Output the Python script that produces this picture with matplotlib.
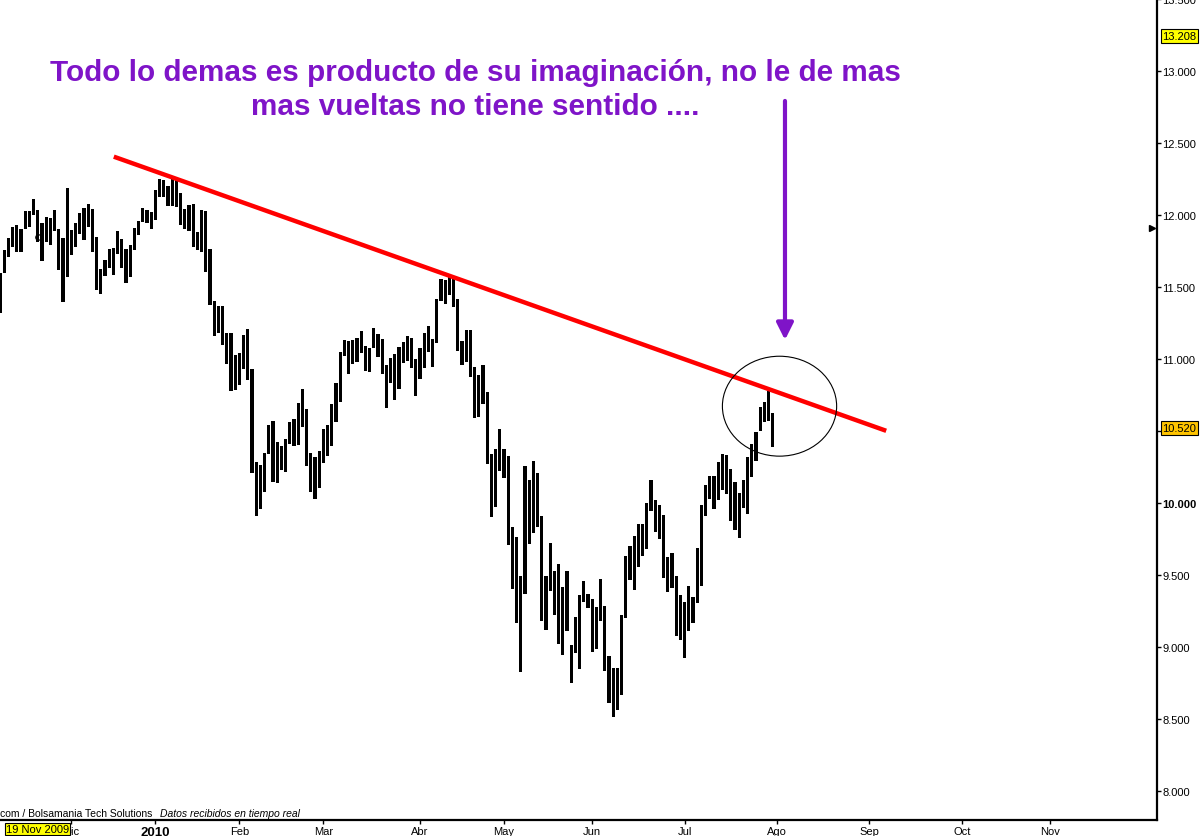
import numpy as np
import matplotlib
matplotlib.use('Agg')
import matplotlib.pyplot as plt
from matplotlib.patches import Ellipse

plt.rcParams['font.family'] = ['Liberation Sans', 'DejaVu Sans']

# daily high / low (one bar per trading day, from 19 Nov 2009)
highs = [11597, 11757, 11840, 11914, 11931, 11903, 12028, 12028, 12111, 12035,
         11944, 11986, 11977, 12032, 11903, 11840, 12187, 11896, 11944, 12014,
         12046, 12076, 12042, 11847, 11625, 11690, 11764, 11771, 11889, 11833,
         11764, 11792, 11910, 11958, 12049, 12035, 12021, 12174, 12250, 12243,
         12201, 12264, 12250, 12153, 12042, 12069, 12076, 11882, 12035, 12028,
         11764, 11403, 11368, 11368, 11181, 11181, 11028, 11042, 11167, 11208,
         10931, 10285, 10266, 10347, 10542, 10569, 10424, 10396, 10444, 10563,
         10583, 10694, 10792, 10653, 10347, 10319, 10361, 10514, 10542, 10687,
         10833, 11049, 11132, 11125, 11132, 11146, 11194, 11090, 11076, 11215,
         11174, 11139, 10958, 11007, 11035, 11083, 11118, 11160, 11146, 11000,
         11076, 11181, 11229, 11139, 11417, 11556, 11549, 11569, 11556, 11417,
         11125, 11201, 11201, 10944, 10889, 10958, 10771, 10340, 10375, 10514,
         10375, 10326, 9836, 9766, 9495, 10257, 10160, 10292, 10208, 9910,
         9495, 9722, 9528, 9576, 9419, 9528, 9016, 9211, 9363, 9458,
         9370, 9333, 9280, 9472, 9287, 8940, 8856, 8856, 9225, 9634,
         9704, 9773, 9854, 9854, 10000, 10160, 10023, 9986, 9917, 9627,
         9655, 9495, 9363, 9315, 9426, 9350, 9688, 9986, 10125, 10188,
         10188, 10285, 10340, 10333, 10236, 10146, 10070, 10160, 10320, 10410,
         10493, 10667, 10701, 10778, 10625]
lows = [11317, 11597, 11711, 11780, 11745, 11745, 11903, 11919, 12002, 11810,
        11683, 11815, 11794, 11891, 11620, 11398, 11572, 11724, 11780, 11868,
        11829, 11919, 11745, 11481, 11454, 11579, 11632, 11586, 11729, 11632,
        11530, 11572, 11759, 11863, 11954, 11947, 11903, 11968, 12127, 12127,
        12065, 12065, 12053, 11933, 11903, 11891, 11780, 11759, 11741, 11606,
        11377, 11162, 11183, 11100, 10968, 10780, 10787, 10822, 10933, 10856,
        10211, 9910, 9958, 10074, 10340, 10148, 10141, 10231, 10218, 10410,
        10398, 10405, 10530, 10259, 10079, 10030, 10106, 10280, 10329, 10398,
        10565, 10704, 11023, 10898, 10968, 10981, 11044, 10919, 10912, 11079,
        11016, 10898, 10662, 10836, 10718, 10794, 10975, 10988, 10940, 10745,
        10863, 10940, 11051, 10947, 11113, 11405, 11384, 11447, 11363, 11058,
        10961, 10981, 10877, 10593, 10600, 10690, 10273, 9905, 9975, 10225,
        10176, 9711, 9405, 9169, 8829, 9370, 9718, 9794, 9836, 9183,
        9120, 9391, 9225, 9023, 8947, 9113, 8752, 8961, 8850, 9315,
        9273, 8968, 8988, 9183, 8836, 8613, 8516, 8565, 8669, 9204,
        9468, 9398, 9558, 9634, 9683, 9947, 9801, 9752, 9482, 9384,
        9412, 9079, 9051, 8926, 9113, 9169, 9308, 9426, 9912, 10030,
        9961, 10023, 10093, 10065, 9877, 9815, 9759, 9968, 9926, 10183,
        10292, 10502, 10560, 10567, 10391]

month_pos = [17, 37, 57, 77, 100, 120, 141, 163, 185, 207, 229, 250]
month_lbl = ['Dic', '2010', 'Feb', 'Mar', 'Abr', 'May', 'Jun', 'Jul', 'Ago', 'Sep', 'Oct', 'Nov']

price_ticks = list(range(8000, 14000, 500))

# resistance line drawn by hand (bar index, price)
trend_x = [27.1, 211.0]
trend_y = [12405, 10501]

last_price = 10520
max_price = 13208
purple = '#7F14C8'

W, H = 1201, 837
fig = plt.figure(figsize=(W / 100, H / 100), dpi=100)
ax = fig.add_axes([0, 16 / H, 1156.5 / W, 821 / H])

x = np.arange(len(highs))
hi = np.array(highs)
lo = np.array(lows)
ax.bar(x, hi - lo, bottom=lo, width=0.72, color='black', linewidth=0, antialiased=False)
ax.plot([9], [11850], 'o', ms=4, mfc='none', mec='black', mew=0.8)

ax.plot(trend_x, trend_y, color='#FF0000', lw=3.2, solid_capstyle='butt', zorder=4)
ax.add_patch(Ellipse((185.6, 10672), 27.2, 694, fill=False, ec='black', lw=0.8, zorder=5))
ax.annotate('', xy=(186.9, 11132), xytext=(186.9, 12792),
            arrowprops=dict(arrowstyle='-|>,head_width=0.5,head_length=1.0',
                            color=purple, lw=3, shrinkA=0, shrinkB=0))

ax.set_xlim(0, 1156.5 / 4.2)
ax.set_ylim(7798, 13500)

for s in ['left', 'top']:
    ax.spines[s].set_visible(False)
for s in ['right', 'bottom']:
    ax.spines[s].set_linewidth(1.6)

ax.yaxis.tick_right()
ax.set_yticks(price_ticks)
# the 10.500 label sits under the last-price box, so leave it blank
ax.set_yticklabels(['' if v == 10500 else f'{v:,}'.replace(',', '.') for v in price_ticks])
ax.tick_params(axis='y', direction='out', length=3, width=1, labelsize=8, pad=1)
for t in ax.get_yticklabels():
    if t.get_text() == '10.000':
        t.set_fontweight('bold')

ax.set_xticks(month_pos)
ax.set_xticklabels(month_lbl)
ax.tick_params(axis='x', direction='out', length=3, width=1, labelsize=8, pad=1.5)
for t in ax.get_xticklabels():
    if t.get_text() == '2010':
        t.set_fontweight('bold')
        t.set_fontsize(9.5)

# price labels on the right scale
ytr = ax.get_yaxis_transform()
ax.text(1.005, max_price, f'{max_price:,}'.replace(',', '.'), transform=ytr, fontsize=8,
        va='bottom', ha='left', bbox=dict(fc='#FFFF00', ec='black', lw=0.8, pad=1.2), clip_on=False)
ax.text(1.005, last_price, f'{last_price:,}'.replace(',', '.'), transform=ytr, fontsize=8,
        va='center', ha='left', bbox=dict(fc='#FFC400', ec='black', lw=0.8, pad=1.2), clip_on=False)
ax.plot([0.9965], [11910], marker='>', ms=5, color='black', transform=ytr, clip_on=False)

fig.text(0.0, 1 - 814 / H, 'com / Bolsamania Tech Solutions', fontsize=7.5, va='center', ha='left')
fig.text(160 / W, 1 - 814 / H, 'Datos recibidos en tiempo real', fontsize=7.5, style='italic',
         va='center', ha='left')
fig.text(6 / W, 1 - 830 / H, '19 Nov 2009', fontsize=8, va='center', ha='left', zorder=10,
         bbox=dict(fc='#FFFF00', ec='black', lw=0.8, pad=1.0))

fig.text(475 / W, 1 - 90 / H,
         'Todo lo demas es producto de su imaginación, no le de mas\nmas vueltas no tiene sentido ....',
         color=purple, fontsize=21.4, fontweight='bold', ha='center', va='center', linespacing=1.28)

fig.savefig('out.png', dpi=100)
